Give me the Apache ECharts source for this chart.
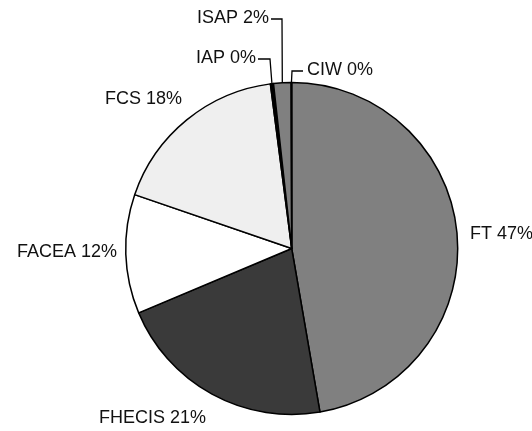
<!DOCTYPE html>
<html>
<head>
<meta charset="utf-8">
<script src="https://cdn.jsdelivr.net/npm/echarts@6/dist/echarts.min.js"></script>
<style>html,body{margin:0;padding:0;background:#fff}#c{width:532px;height:431px}</style>
</head>
<body>
<div id="c"></div>
<script>
// Data
var categories = ['FT', 'FHECIS', 'FACEA', 'FCS', 'IAP', 'ISAP', 'CIW'];
var values = [47.3, 21.4, 11.6, 17.7, 0.3, 1.7, 0.05];
var colors = ['#808080', '#3a3a3a', '#ffffff', '#efefef', '#000000', '#808080', '#ffffff'];

// Label layout (positions only)
var labelPos = {
  FT:     {x: 470, y: 234, align: 'left'},
  FHECIS: {x: 206, y: 418, align: 'right'},
  FACEA:  {x: 117, y: 252, align: 'right'},
  FCS:    {x: 182, y: 99,  align: 'right'},
  IAP:    {x: 256, y: 58,  align: 'right', line: true, bendX: 270},
  ISAP:   {x: 269, y: 18,  align: 'right', line: true, bendX: 282},
  CIW:    {x: 307, y: 70,  align: 'left',  line: true, bendX: 292}
};

var chart = echarts.init(document.getElementById('c'), null, {renderer: 'canvas'});
var data = categories.map(function (n, i) {
  return {
    name: n,
    value: values[i],
    itemStyle: {color: colors[i]},
    labelLine: {show: !!labelPos[n].line}
  };
});

chart.setOption({
  animation: false,
  backgroundColor: '#ffffff',
  series: [{
    type: 'pie',
    center: [291.7, 248.5],
    radius: 166,
    startAngle: 90,
    clockwise: true,
    percentPrecision: 0,
    avoidLabelOverlap: false,
    minShowLabelAngle: 0,
    data: data,
    itemStyle: {borderColor: '#000', borderWidth: 1.5},
    label: {
      show: true,
      position: 'outside',
      formatter: '{b} {d}%',
      fontFamily: 'Liberation Sans, Arial, sans-serif',
      fontSize: 18,
      color: '#111'
    },
    labelLine: {
      show: true,
      length: 10,
      length2: 10,
      lineStyle: {color: '#000', width: 1.3}
    },
    labelLayout: function (params) {
      var name = categories[params.dataIndex];
      var p = labelPos[name];
      var res = {x: p.x, y: p.y, align: p.align, verticalAlign: 'middle'};
      if (p.line && params.labelLinePoints) {
        var start = params.labelLinePoints[0];
        var endX = p.align === 'right' ? p.x + 2 : p.x - 4;
        res.labelLinePoints = [
          [start[0], start[1]],
          [p.bendX, p.y + 1],
          [endX, p.y + 1]
        ];
      }
      return res;
    }
  }]
});
</script>
</body>
</html>
